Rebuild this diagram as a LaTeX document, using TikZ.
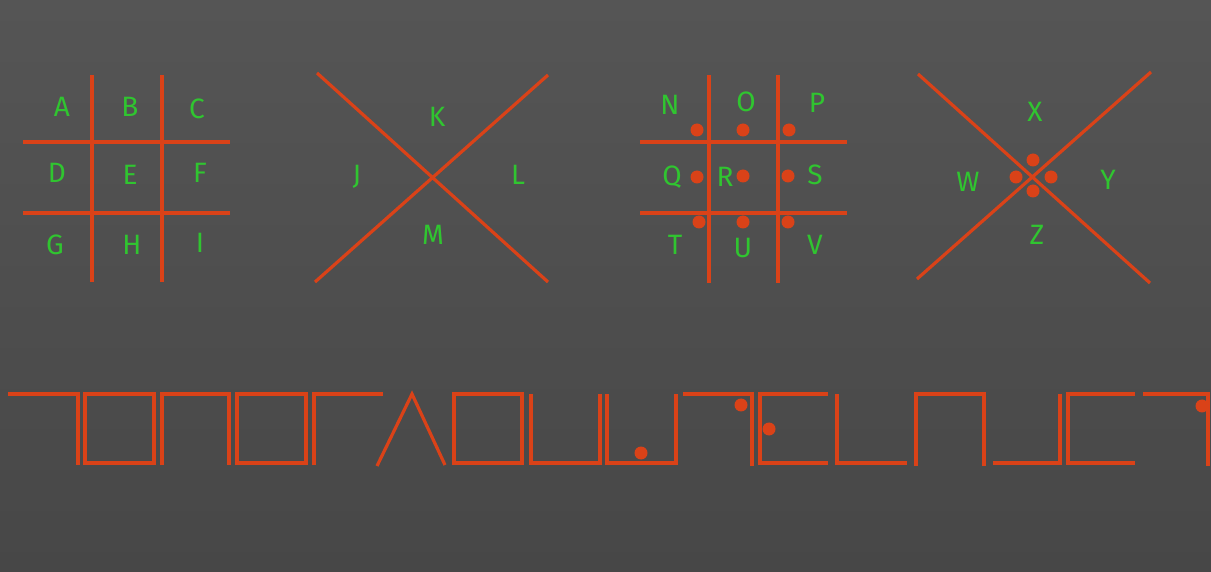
\documentclass[tikz,border=0pt]{standalone}
\usepackage{fontspec}
\setsansfont{Fira Sans}
\definecolor{boardtop}{HTML}{555555}
\definecolor{boardbot}{HTML}{474747}
\definecolor{chalkred}{HTML}{DA4218}
\definecolor{chalkgreen}{HTML}{30C530}

\begin{document}
\begin{tikzpicture}[x=0.5pt,y=-0.5pt,
  stroke/.style={draw=chalkred,line width=1.6pt},
  glyph/.style={text=chalkgreen,font=\sffamily\fontsize{14}{14}\selectfont,inner sep=0pt},
  pdot/.style={circle,fill=chalkred,inner sep=0pt,minimum size=6.5pt}]
\useasboundingbox (0,0) rectangle (1211,572);
\shade[top color=boardtop,bottom color=boardbot] (0,0) rectangle (1211,572);

% first grid
\draw[stroke] (92,75) -- (92,282) (162,75) -- (162,282);
\draw[stroke] (23,142) -- (230,142) (23,213) -- (230,213);
\node[glyph] (A) at (62,107) {A};
\node[glyph] (B) at (130,107) {B};
\node[glyph] (C) at (197,109) {C};
\node[glyph] (D) at (57,173) {D};
\node[glyph] (E) at (130,175) {E};
\node[glyph] (F) at (200,173) {F};
\node[glyph] (G) at (55,245) {G};
\node[glyph] (H) at (132,245) {H};
\node[glyph] (I) at (200,243) {I};

% first cross
\draw[stroke] (317,73) -- (548,282) (315,282) -- (548,75);
\node[glyph] (K) at (437,117) {K};
\node[glyph] (J) at (357,177) {J};
\node[glyph] (L) at (518,175) {L};
\node[glyph] (M) at (433,235) {M};

% second grid with dots
\draw[stroke] (709,75) -- (709,283) (778,75) -- (778,283);
\draw[stroke] (640,142) -- (847,142) (640,213) -- (847,213);
\node[glyph] (N) at (670,105) {N};
\node[glyph] (O) at (746,102) {O};
\node[glyph] (P) at (817,103) {P};
\node[glyph] (Q) at (672,177) {Q};
\node[glyph] (R) at (725,177) {R};
\node[glyph] (S) at (815,175) {S};
\node[glyph] (T) at (675,245) {T};
\node[glyph] (U) at (743,248) {U};
\node[glyph] (V) at (815,245) {V};
\node[pdot] (dN) at (697,130) {};
\node[pdot] (dO) at (743,130) {};
\node[pdot] (dP) at (789,130) {};
\node[pdot] (dQ) at (697,177) {};
\node[pdot] (dR) at (743,176) {};
\node[pdot] (dS) at (788,176) {};
\node[pdot] (dT) at (699,222) {};
\node[pdot] (dU) at (743,222) {};
\node[pdot] (dV) at (788,222) {};

% second cross with dots
\draw[stroke] (918,74) -- (1150,283) (917,279) -- (1151,72);
\node[glyph] (X) at (1035,112) {X};
\node[glyph] (W) at (968,182) {W};
\node[glyph] (Y) at (1108,180) {Y};
\node[glyph] (Z) at (1037,235) {Z};
\node[pdot] (dX) at (1033,160) {};
\node[pdot] (dW) at (1016,177) {};
\node[pdot] (dY) at (1051,177) {};
\node[pdot] (dZ) at (1033,191) {};

% the message
\draw[stroke] (8,394) -- (78,394) -- (78,465);
\draw[stroke] (85,394) rectangle (154,463);
\draw[stroke] (162,465) -- (162,394) -- (229,394) -- (229,465);
\draw[stroke] (237,394) rectangle (306,463);
\draw[stroke] (314,465) -- (314,394) -- (383,394);
\draw[stroke] (377,466) -- (412,394) -- (445,465);
\draw[stroke] (454,394) rectangle (522,463);
\draw[stroke] (531,394) -- (531,463) -- (600,463) -- (600,394);
\draw[stroke] (607,394) -- (607,463) -- (676,463) -- (676,394);
\node[pdot] (m1) at (641,453) {};
\draw[stroke] (683,394) -- (752,394) -- (752,466);
\node[pdot] (m2) at (741,405) {};
\draw[stroke] (828,394) -- (760,394) -- (760,463) -- (828,463);
\node[pdot] (m3) at (769,429) {};
\draw[stroke] (837,394) -- (837,463) -- (907,463);
\draw[stroke] (916,466) -- (916,394) -- (984,394) -- (984,466);
\draw[stroke] (993,463) -- (1060,463) -- (1060,394);
\draw[stroke] (1135,394) -- (1068,394) -- (1068,463) -- (1135,463);
\draw[stroke] (1143,394) -- (1208,394) -- (1208,466);
\node[pdot] (m4) at (1202,406) {};

\end{tikzpicture}
\end{document}
